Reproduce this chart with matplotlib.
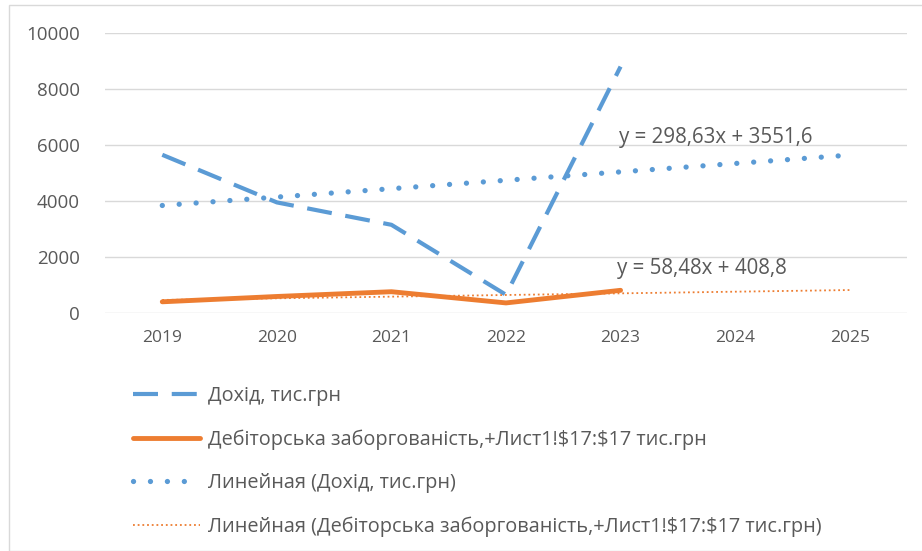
import numpy as np
import matplotlib.pyplot as plt
from matplotlib.patches import Rectangle

# Дані
years = ['2019', '2020', '2021', '2022', '2023', '2024', '2025']
dohid = [5650, 3950, 3150, 650, 8800]
debit = [400, 590, 760, 360, 810]
eq_dohid = 'y = 298,63x + 3551,6'
eq_debit = 'y = 58,48x + 408,8'
labels = ['Дохід, тис.грн',
          r'Дебіторська заборгованість,+Лист1!\$17:\$17 тис.грн',
          'Линейная (Дохід, тис.грн)',
          r'Линейная (Дебіторська заборгованість,+Лист1!\$17:\$17 тис.грн)']

plt.rcParams['font.family'] = ['Open Sans', 'DejaVu Sans']
grey = '#595959'
blue = '#5B9BD5'
orange = '#ED7D31'

fig = plt.figure(figsize=(9.22, 5.51), dpi=100)
fig.patches.append(Rectangle((9 / 922, 0), 1, 1 - 5 / 551, transform=fig.transFigure,
                             fill=False, edgecolor='#D9D9D9', linewidth=1))
ax = fig.add_axes([105 / 922, 1 - 313 / 551, 802 / 922, 280 / 551])

x_all = np.arange(1, len(years) + 1)
x_dat = np.arange(1, len(dohid) + 1)

# лінійні тренди (як у Excel), продовжені на 2 періоди
k1, b1 = np.polyfit(x_dat, dohid, 1)
k2, b2 = np.polyfit(x_dat, debit, 1)

l1, = ax.plot(x_dat, dohid, color=blue, lw=3, dashes=(6, 3.3), dash_capstyle='butt')
l2, = ax.plot(x_dat, debit, color=orange, lw=3.5, solid_capstyle='round')
l3, = ax.plot(x_all, k1 * x_all + b1, color=blue, lw=3.8, dashes=(0.01, 3.2),
              dash_capstyle='round')
l4, = ax.plot(x_all, k2 * x_all + b2, color=orange, lw=1.3, dashes=(1, 1.6))

ax.text(4.99, 6250, eq_dohid, fontsize=14.8, color=grey, va='center')
ax.text(4.97, 1600, eq_debit, fontsize=14.8, color=grey, va='center')

ax.set_xlim(0.5, 7.5)
ax.set_ylim(0, 10000)
ax.set_yticks(range(0, 10001, 2000))
ax.set_xticks(x_all)
ax.set_xticklabels(years)
ax.tick_params(axis='x', length=0, labelsize=12.5, labelcolor=grey, pad=12)
ax.tick_params(axis='y', length=0, labelsize=13.5, labelcolor=grey, pad=18)
ax.grid(axis='y', color='#D9D9D9', lw=1)
ax.set_axisbelow(True)
for s in ax.spines.values():
    s.set_visible(False)

fig.legend([l1, l2, l3, l4], labels, loc='upper left',
           bbox_to_anchor=(125 / 922, 1 - 378 / 551), frameon=False,
           fontsize=14.3, labelcolor=grey, handlelength=3.4, handletextpad=0.4,
           labelspacing=1.18, borderaxespad=0)

fig.savefig('out.png', dpi=100)
